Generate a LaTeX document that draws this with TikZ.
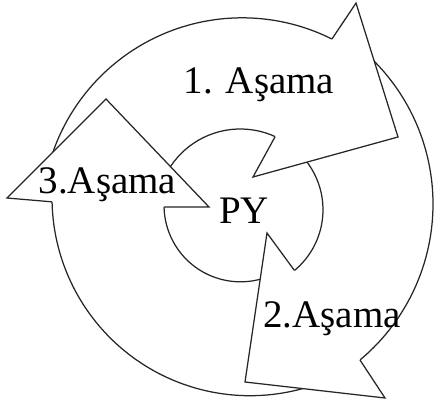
\documentclass[tikz,border=0pt]{standalone}
\usepackage{fontspec}
\setmainfont{Liberation Serif}
\usetikzlibrary{calc}
\begin{document}
\begin{tikzpicture}[x=1pt,y=-1pt,
  edge/.style={draw=black!85,line width=1.25pt,line join=miter},
  headfill/.style={fill=white,draw=black!85,line width=1.25pt,line join=miter},
  lbl/.style={inner sep=0pt,anchor=base,font=\fontsize{39}{40}\selectfont}]
\useasboundingbox (0,0) rectangle (434,405);
% arc centres
\coordinate (O1c) at (242.2,218.3);
\coordinate (I1c) at (240.3,212.7);
\coordinate (O2c) at (230.1,204.1);
\coordinate (I2c) at (244,209.7);
\coordinate (O3c) at (250,197.7);
\coordinate (I3c) at (240.5,205.3);
% notches where the arcs meet the heads
\coordinate (n1o) at ($(O1c)+(-63.4:200.5)$);
\coordinate (n1i) at ($(I1c)+(-65.4:83.7)$);
\coordinate (n2o) at ($(O2c)+(50.2:202.9)$);
\coordinate (n2i) at ($(I2c)+(50.3:79)$);
\coordinate (n3o) at ($(O3c)+(178.8:198)$);
\coordinate (n3i) at ($(I3c)+(178.7:76.5)$);
% head vertices
\coordinate (h1a) at (356,3);
\coordinate (h1t) at (398,137);
\coordinate (h1b) at (253,177);
\coordinate (h2a) at (385,398);
\coordinate (h2t) at (245,382);
\coordinate (h2b) at (267,233);
\coordinate (h3a) at (7,198);
\coordinate (h3t) at (106,99);
\coordinate (h3b) at (209,207);
% bodies (tails run under the previous head)
\draw[edge] ($(O1c)+(-172:200.5)$) arc[start angle=-172,end angle=-63.4,radius=200.5];
\draw[edge] ($(I1c)+(-165:83.7)$) arc[start angle=-165,end angle=-65.4,radius=83.7];
\draw[edge] ($(O2c)+(-52:202.9)$) arc[start angle=-52,end angle=50.2,radius=202.9];
\draw[edge] ($(I2c)+(-50:79)$) arc[start angle=-50,end angle=50.3,radius=79];
\draw[edge] ($(O3c)+(68:198)$) arc[start angle=68,end angle=178.8,radius=198];
\draw[edge] ($(I3c)+(62:76.5)$) arc[start angle=62,end angle=178.7,radius=76.5];
% heads
\filldraw[headfill] (n1o) -- (h1a) -- (h1t) -- (h1b) -- (n1i);
\filldraw[headfill] (n2o) -- (h2a) -- (h2t) -- (h2b) -- (n2i);
\filldraw[headfill] (n3o) -- (h3a) -- (h3t) -- (h3b) -- (n3i);
% labels
\node[lbl] (l1) at (259,93) {1. Aşama};
\node[lbl] (l2) at (332,327) {2.Aşama};
\node[lbl] (l3) at (107.5,193) {3.Aşama};
\node[lbl] (py) at (244,223) {PY};
\end{tikzpicture}
\end{document}
